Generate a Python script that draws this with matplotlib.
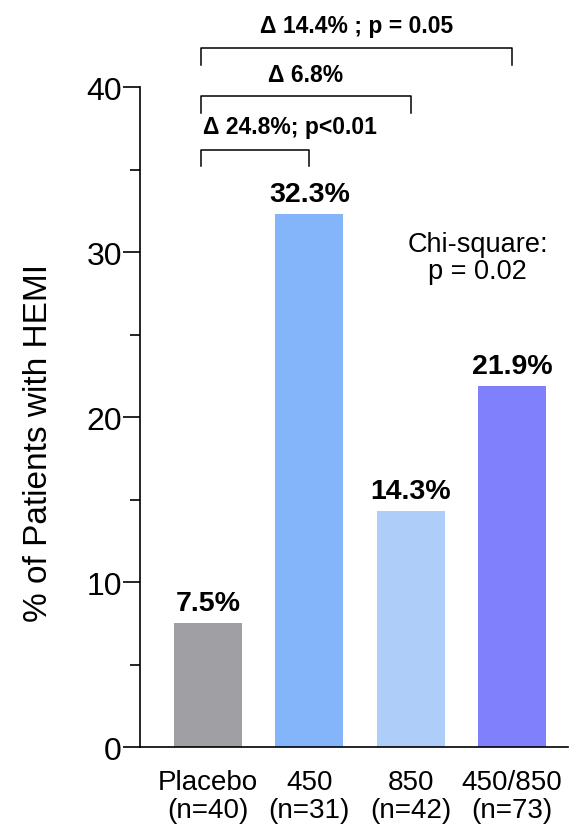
import matplotlib.pyplot as plt

plt.rcParams['font.family'] = ['Liberation Sans', 'DejaVu Sans']

grupos = ["Placebo\n(n=40)", "450\n(n=31)", "850\n(n=42)", "450/850\n(n=73)"]
percentuais = [7.5, 32.3, 14.3, 21.9]
rotulos = ["7.5%", "32.3%", "14.3%", "21.9%"]
cores = ["#a09fa4", "#84b5fb", "#aecdf9", "#8080fc"]

# comparações contra o placebo: (grupo, altura da chave, texto, altura do texto)
comparacoes = [
    (1, 36.2, "Δ 24.8%; p<0.01", 37.6),
    (2, 39.45, "Δ 6.8%", 40.75),
    (3, 42.35, "Δ 14.4% ; p = 0.05", 43.75),
]

fig = plt.figure(figsize=(5.72, 8.28), dpi=100)
ax = fig.add_axes([0.2448, 0.0966, 0.748, 0.797])

x = list(range(len(grupos)))
ax.bar(x, percentuais, width=0.67, color=cores)

for xi, v, r in zip(x, percentuais, rotulos):
    ax.annotate(r, (xi, v), xytext=(0, 5), textcoords='offset points',
                ha='center', va='bottom', fontsize=20.5, fontweight='bold')

for grupo, altura, texto, ytexto in comparacoes:
    ax.plot([-0.07, -0.07, grupo, grupo], [altura - 1.0, altura, altura, altura - 1.0],
            color='black', lw=1.1, clip_on=False)
    if grupo == 1:
        ax.text(-0.05, ytexto, texto, ha='left', va='center', fontsize=16.5, fontweight='bold')
    else:
        ax.text((grupo - 0.07) / 2, ytexto, texto, ha='center', va='center',
                fontsize=16.5, fontweight='bold')

ax.text(2.66, 29.7, "Chi-square:\np = 0.02", ha='center', va='center', fontsize=19.5,
        linespacing=1.05)

ax.set_xlim(-0.67, 3.55)
ax.set_ylim(0, 40)
ax.set_yticks([0, 10, 20, 30, 40])
ax.set_yticks([5, 15, 25, 35], minor=True)
ax.tick_params(axis='y', which='major', length=12, width=1.2, labelsize=23, pad=1)
ax.tick_params(axis='y', which='minor', length=7, width=1.2)
ax.set_xticks(x)
ax.set_xticklabels(grupos, fontsize=20, linespacing=1.08)
ax.tick_params(axis='x', length=0, pad=16)
ax.set_ylabel("% of Patients with HEMI", fontsize=24)
ax.yaxis.set_label_coords(-0.2, 0.462)

for lado in ['top', 'right']:
    ax.spines[lado].set_visible(False)
for lado in ['left', 'bottom']:
    ax.spines[lado].set_linewidth(1.2)

fig.savefig("out.png", dpi=100)
